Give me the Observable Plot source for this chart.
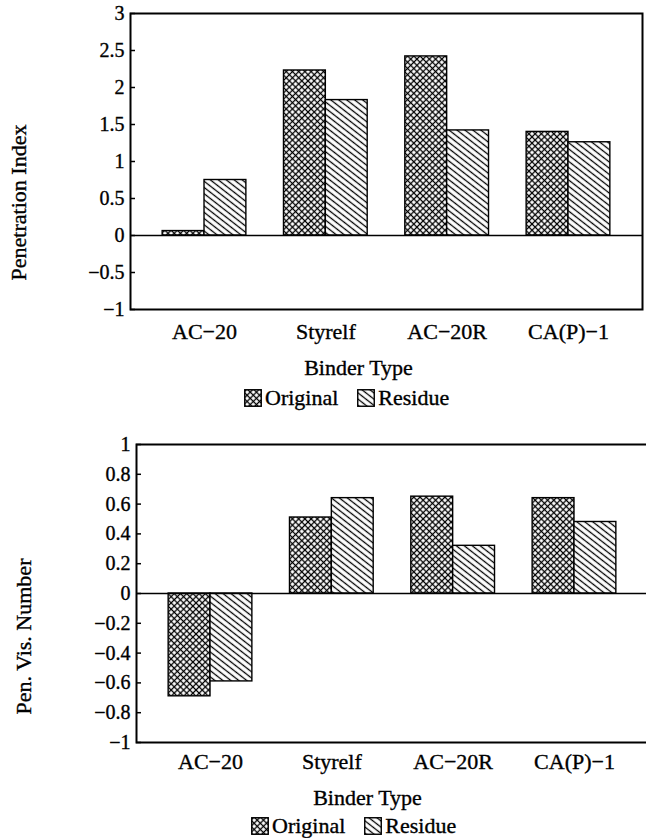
<!DOCTYPE html>
<html>
<head>
<meta charset="utf-8">
<script src="https://cdn.jsdelivr.net/npm/d3@7"></script>
<script src="https://cdn.jsdelivr.net/npm/@observablehq/plot@0.6"></script>
<style>
  html, body { margin: 0; padding: 0; background: #fff; }
  body { width: 646px; height: 838px; position: relative; overflow: hidden;
         font-family: "Liberation Serif", "Times New Roman", serif; color: #000; }
  .chart { position: absolute; left: 0; }
  .chart svg text { stroke: #000; stroke-width: 0.35px; }
  .legend { position: absolute; display: flex; align-items: center; font-size: 22px; line-height: 1;
            -webkit-text-stroke: 0.35px #000; }
  .legend .sw { margin-right: 3px; }
  .legend .item { display: flex; align-items: center; margin-right: 19px; }
</style>
</head>
<body>
<svg width="0" height="0" style="position:absolute">
  <defs>
    <pattern id="pat-orig" patternUnits="userSpaceOnUse" width="4.4" height="4.4" patternTransform="rotate(45)">
      <rect width="4.4" height="4.4" fill="#fff"/>
      <line x1="2.2" y1="0" x2="2.2" y2="4.4" stroke="#000" stroke-width="1.3"/>
      <line x1="0" y1="2.2" x2="4.4" y2="2.2" stroke="#000" stroke-width="1.3"/>
    </pattern>
    <pattern id="pat-res" patternUnits="userSpaceOnUse" width="10" height="4.9" patternTransform="rotate(38)">
      <rect width="10" height="4.9" fill="#fff"/>
      <line x1="0" y1="2.45" x2="10" y2="2.45" stroke="#000" stroke-width="1.3"/>
    </pattern>
  </defs>
</svg>
<div id="top" class="chart" style="top:0px"></div>
<div id="top-legend" class="legend" style="left:244px; top:387px"></div>
<div id="bottom" class="chart" style="top:410px"></div>
<div id="bottom-legend" class="legend" style="left:251px; top:815px"></div>
<script>
// ---- data ----
const categories = ["AC−20", "Styrelf", "AC−20R", "CA(P)−1"];
const seriesNames = ["Original", "Residue"];
const penIndexOriginal = [0.06, 2.23, 2.42, 1.40];
const penIndexResidue  = [0.75, 1.83, 1.42, 1.26];
const pvnOriginal = [-0.69, 0.51, 0.65, 0.64];
const pvnResidue  = [-0.59, 0.64, 0.32, 0.48];
const penIndexTicks = [-1, -0.5, 0, 0.5, 1, 1.5, 2, 2.5, 3];
const pvnTicks = [-1, -0.8, -0.6, -0.4, -0.2, 0, 0.2, 0.4, 0.6, 0.8, 1];
const xTitle = "Binder Type";
const yTitleTop = "Penetration Index";
const yTitleBottom = "Pen. Vis. Number";

const fills = { Original: "url(#pat-orig)", Residue: "url(#pat-res)" };
const fmt = d => d === 0 ? "0" : (d < 0 ? "\u2212" : "") + String(Math.abs(d));

function rows(orig, res) {
  return {
    Original: categories.map((c, i) => ({ category: c, value: orig[i] })),
    Residue: categories.map((c, i) => ({ category: c, value: res[i] }))
  };
}

function chart(o) {
  const paddingInner = 0.31, paddingOuter = 0.265;
  const range = o.width - o.ml - o.mr;
  const step = range / (categories.length - paddingInner + 2 * paddingOuter);
  const half = step * (1 - paddingInner) / 2;
  const data = rows(o.orig, o.res);
  return Plot.plot({
    width: o.width, height: o.height,
    marginLeft: o.ml, marginRight: o.mr, marginTop: o.mt, marginBottom: o.mb,
    style: { fontSize: "20px", fontFamily: "'Liberation Serif', 'Times New Roman', serif",
             background: "transparent", overflow: "visible", maxWidth: "none" },
    x: { domain: categories, paddingInner, paddingOuter, round: false },
    y: { domain: o.yDomain },
    marks: [
      Plot.barY(data.Original, { x: "category", y: "value", fill: fills.Original, stroke: "#000", strokeWidth: 1.4, insetRight: half }),
      Plot.barY(data.Residue, { x: "category", y: "value", fill: fills.Residue, stroke: "#000", strokeWidth: 1.4, insetLeft: half }),
      Plot.ruleY([0], { stroke: "#000", strokeWidth: 1.4 }),
      Plot.frame({ stroke: "#000", strokeWidth: 2 }),
      Plot.axisY(o.ticks, { tickSize: -5, tickPadding: 11, tickFormat: fmt, label: null, strokeWidth: 1.5, fontSize: 20 }),
      Plot.axisX({ tickSize: 0, tickPadding: o.xPad, label: null, fontSize: 22 }),
      Plot.text([xTitle], { text: d => d, frameAnchor: "bottom", textAnchor: "middle", lineAnchor: "middle", fontSize: 22, dx: o.xtDx, dy: o.xtDy }),
      Plot.text([o.ylabel], { text: d => d, frameAnchor: "left", textAnchor: "middle", lineAnchor: "middle", rotate: -90, fontSize: 22, dx: o.ytDx, dy: o.ytDy })
    ]
  });
}

document.getElementById("top").append(chart({
  width: 646, height: 380, ml: 130, mr: 4, mt: 13, mb: 71,
  yDomain: [-1, 3], ticks: penIndexTicks,
  orig: penIndexOriginal, res: penIndexResidue,
  xPad: 14, xtDx: -28, xtDy: 58, ylabel: yTitleTop, ytDx: -112, ytDy: 41
}));

document.getElementById("bottom").append(chart({
  width: 650, height: 400, ml: 136, mr: 2, mt: 34, mb: 68,
  yDomain: [-1, 1], ticks: pvnTicks,
  orig: pvnOriginal, res: pvnResidue,
  xPad: 11, xtDx: -25, xtDy: 55, ylabel: yTitleBottom, ytDx: -113, ytDy: 43
}));

function legend(id) {
  const el = document.getElementById(id);
  for (const s of seriesNames) {
    const item = document.createElement("div");
    item.className = "item";
    item.innerHTML = `<svg class="sw" width="18" height="18"><rect x="0.75" y="0.75" width="16.5" height="16.5" fill="${fills[s]}" stroke="#000" stroke-width="1.4"/></svg><span>${s}</span>`;
    el.append(item);
  }
}
legend("top-legend");
legend("bottom-legend");
</script>
</body>
</html>
